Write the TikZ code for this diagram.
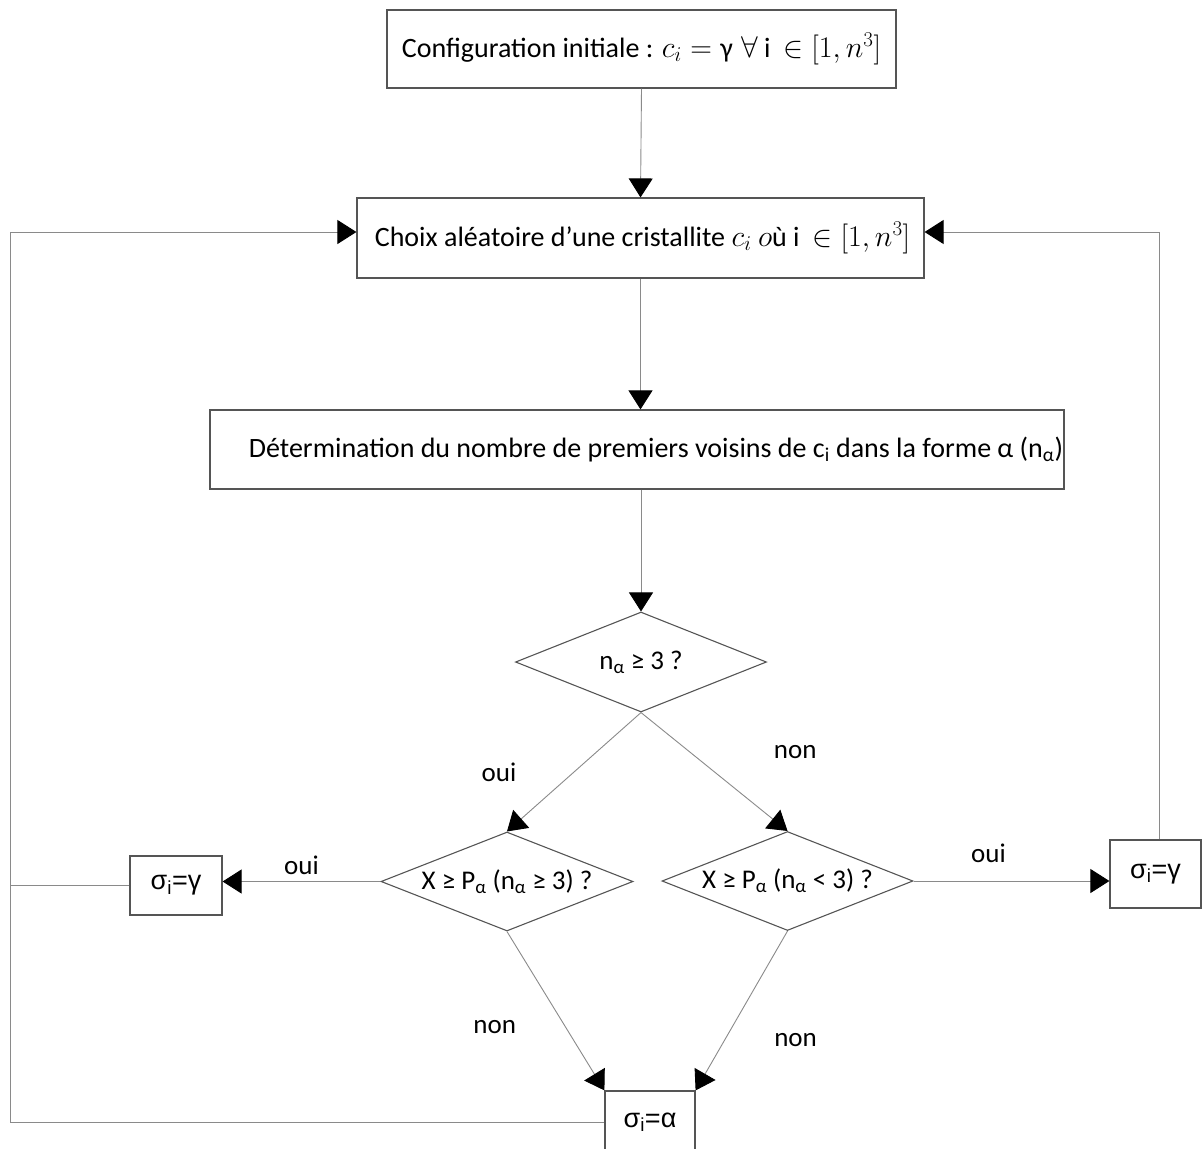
\documentclass[tikz,border=0pt]{standalone}
\usepackage{fix-cm}
\usepackage{fontspec}
\setmainfont{Carlito}
\newfontfamily\arialf{Liberation Sans}
\usetikzlibrary{arrows.meta,shapes.geometric}
\definecolor{boxgray}{HTML}{555555}
\definecolor{linegray}{HTML}{8A8A8A}
\newcommand{\bigmath}[1]{{\fontsize{30}{32}\selectfont$#1$}}
\begin{document}
\begin{tikzpicture}[x=1pt,y=-1pt,
  txt/.style={font=\fontsize{28}{32}\selectfont},
  dtxt/.style={font=\fontsize{27}{31}\selectfont},
  box/.style={draw=boxgray, line width=1.2pt, inner sep=0pt, txt},
  dia/.style={draw=boxgray, line width=1.1pt, shape=diamond, inner sep=0pt},
  sbox/.style={draw=boxgray, line width=1.2pt, inner sep=0pt, font=\arialf\fontsize{27}{30}\selectfont},
  conn/.style={draw=linegray, line width=0.9pt},
  arr/.style={conn, -{Triangle[length=19pt,width=24pt,fill=black,color=black]}},
  lab/.style={dtxt, inner sep=0pt}
]
\useasboundingbox (0,0) rectangle (1203,1149);

\node[box, minimum width=509pt, minimum height=78pt] (b1) at (641.5,49)
  {Configuration initiale : \bigmath{c_i = {}}γ\bigmath{\;\forall} i~ \bigmath{\in [1, n^3]}};
\node[box, minimum width=567pt, minimum height=80pt] (b2) at (640.5,238)
  {\hspace*{4pt}Choix aléatoire d’une cristallite \bigmath{c_i} \bigmath{o}ù i~ \bigmath{\in [1, n^3]}};
\node[box, minimum width=854pt, minimum height=79pt] (b3) at (637,449.5)
  {\hspace*{38pt}Détermination du nombre de premiers voisins de c\textsubscript{i} dans la forme α (n\textsubscript{α})};

\node[dia, minimum width=251pt, minimum height=100pt] (d1) at (641,662) {};
\node[lab] (t1) at (d1.center) {n\textsubscript{α} ≥ 3 ?};
\node[dia, minimum width=252pt, minimum height=99pt] (d2) at (507,881.5) {};
\node[lab] (t2) at (d2.center) {X ≥ P\textsubscript{α} (n\textsubscript{α} ≥ 3) ?};
\node[dia, minimum width=251pt, minimum height=99pt] (d3) at (787.5,881) {};
\node[lab] (t3) at (d3.center) {X ≥ P\textsubscript{α} (n\textsubscript{α} < 3) ?};

\node[sbox, minimum width=92pt, minimum height=59pt] (s1) at (176,885.5) {σ\textsubscript{i}=γ};
\node[sbox, minimum width=91pt, minimum height=68pt] (s2) at (1155.5,874) {σ\textsubscript{i}=γ};
\node[sbox, minimum width=90pt, minimum height=62pt] (sa) at (650,1122) {σ\textsubscript{i}=α};

\coordinate (lc) at (10,1122);

\draw[arr] (b1.south) -- (b2.north);
\draw[arr] (b2.south) -- (b2.south |- b3.north);
\draw[arr] (d1.north |- b3.south) -- (d1.north);
\draw[arr] (d1.south) -- node[lab, xshift=-75pt] {oui} (d2.north);
\draw[arr] (d1.south) -- node[lab, xshift=81pt, yshift=20pt] {non} (d3.north);
\draw[arr] (d2.west) -- node[lab, yshift=16pt] {oui} (d2.west -| s1.east);
\draw[arr] (d3.east) -- node[lab, xshift=-23pt, yshift=28pt] {oui} (d3.east -| s2.west);
\draw[arr] (d2.south) -- node[lab, xshift=-61pt, yshift=-16pt] {non} (sa.north west);
\draw[arr] (d3.south) -- node[lab, xshift=54pt, yshift=-29pt] {non} (sa.north east);

\draw[arr] (sa.west) -- (lc) |- ([yshift=6pt]b2.west);
\draw[conn] (s1.west) -- (s1.west -| lc);
\draw[arr] ([xshift=4pt]s2.north) |- ([yshift=6pt]b2.east);
\end{tikzpicture}
\end{document}
